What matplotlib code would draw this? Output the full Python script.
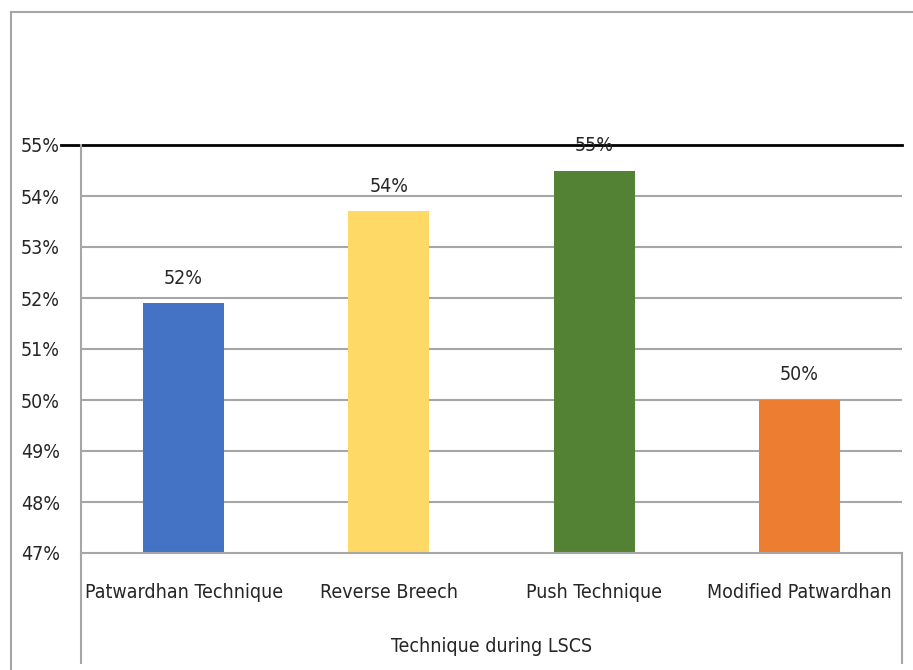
import matplotlib
matplotlib.use("Agg")
import matplotlib.pyplot as plt
from matplotlib.lines import Line2D
from matplotlib.ticker import FuncFormatter

plt.rcParams['font.family'] = ['DejaVu Sans']
plt.rcParams['font.stretch'] = 'condensed'

# Data
categories = ["Patwardhan Technique", "Reverse Breech", "Push Technique", "Modified Patwardhan"]
values = [51.9, 53.7, 54.5, 50.0]
value_labels = ["52%", "54%", "55%", "50%"]
bar_colors = ["#4472C4", "#FFD966", "#548235", "#ED7D31"]
y_ticks = [47, 48, 49, 50, 51, 52, 53, 54, 55]
x_title = "Technique during LSCS"

W, H = 913, 670
fig = plt.figure(figsize=(W / 100, H / 100), dpi=100)
fig.patch.set_facecolor("white")

def fx(px):
    return px / W

def fy(py):
    return 1 - py / H

FS = 14
TXT = "#262626"

ax = fig.add_axes([fx(81), fy(553), fx(902) - fx(81), fy(145) - fy(553)])
ax.set_xlim(-0.5, len(categories) - 0.5)
ax.set_ylim(y_ticks[0], y_ticks[-1])

grid_color = "#a6a6a6"
for t in y_ticks[1:-1]:
    ax.axhline(t, color=grid_color, lw=1.5, zorder=0)

xs = range(len(categories))
ax.bar(xs, [v - y_ticks[0] for v in values], bottom=y_ticks[0], width=0.395,
       color=bar_colors, zorder=2)

for x, v, lab in zip(xs, values, value_labels):
    ax.annotate(lab, (x, v), xytext=(0, 18), textcoords="offset points",
                ha="center", va="center", fontsize=FS, color=TXT, zorder=4)

# top reference line at 55%, extending slightly to the left
ax.axhline(y_ticks[-1], xmin=-20 / 821, xmax=1.0, color="black", lw=2.0,
           clip_on=False, zorder=3)
# baseline
ax.axhline(y_ticks[0], color=grid_color, lw=1.5, zorder=3, clip_on=False)

for s in ax.spines.values():
    s.set_visible(False)

ax.set_yticks(y_ticks)
ax.yaxis.set_major_formatter(FuncFormatter(lambda v, p: f"{int(round(v))}%"))
ax.tick_params(axis="y", length=0, pad=15, labelsize=FS, labelcolor=TXT)
ax.set_xticks([])

# category axis frame
fig.add_artist(Line2D([fx(81), fx(81)], [fy(145), fy(663)], color=grid_color, lw=1.5))
fig.add_artist(Line2D([fx(902), fx(902)], [fy(553), fy(663)], color=grid_color, lw=1.5))

for x, c in zip(xs, categories):
    xd = ax.transData.transform((x, 0))[0]
    fig.text(xd / W, fy(593), c, ha="center", va="center", fontsize=FS, color=TXT)

fig.text((fx(81) + fx(902)) / 2, fy(647), x_title, ha="center", va="center",
         fontsize=FS, color=TXT)

# outer chart border (top and left)
fig.add_artist(Line2D([fx(11), fx(11)], [fy(12), 0], color="#a6a6a6", lw=1.5))
fig.add_artist(Line2D([fx(11), 1], [fy(12), fy(12)], color="#a6a6a6", lw=1.5))

fig.savefig("out.png", dpi=100, facecolor="white")
